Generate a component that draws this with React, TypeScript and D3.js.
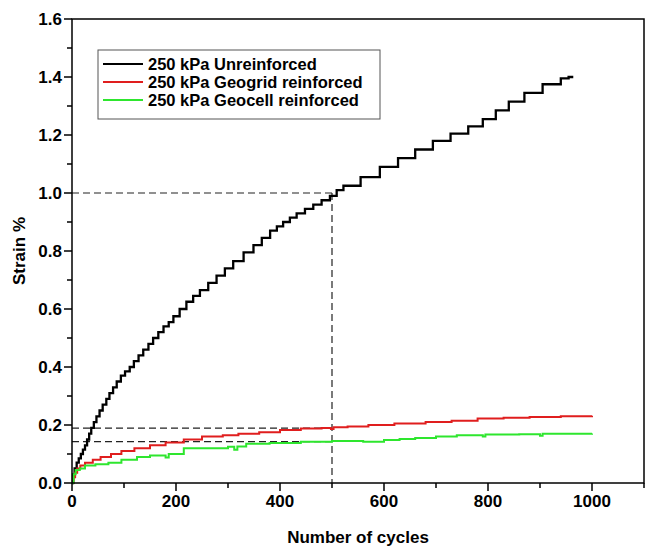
import React from "react";
import * as d3 from "d3";

const xTicks = [0, 200, 400, 600, 800, 1000];
const yTicks = [0, 0.2, 0.4, 0.6, 0.8, 1.0, 1.2, 1.4, 1.6];

const seriesNames = [
  "250 kPa Unreinforced",
  "250 kPa Geogrid reinforced",
  "250 kPa Geocell reinforced",
];
const seriesColors = ["#000000", "#e01e1e", "#2ee62e"];

// [cycles, strain %] step points
const unreinforced: [number, number][] = [
  [0, 0], [2, 0.03], [5, 0.05], [9, 0.07], [13, 0.085], [17, 0.1], [21, 0.115], [25, 0.13],
  [29, 0.15], [33, 0.17], [37, 0.19], [42, 0.21], [47, 0.23], [53, 0.25], [59, 0.27],
  [66, 0.29], [72, 0.31], [79, 0.33], [86, 0.35], [94, 0.37], [102, 0.385], [111, 0.4],
  [119, 0.42], [128, 0.44], [137, 0.46], [147, 0.48], [156, 0.5], [166, 0.52], [176, 0.54],
  [186, 0.555], [195, 0.575], [207, 0.6], [220, 0.625], [233, 0.645], [246, 0.665],
  [262, 0.69], [278, 0.715], [294, 0.74], [310, 0.765], [330, 0.795], [349, 0.82],
  [365, 0.845], [381, 0.87], [394, 0.885], [406, 0.9], [419, 0.915], [432, 0.93],
  [448, 0.945], [464, 0.96], [480, 0.975], [496, 0.99], [509, 1.01], [522, 1.025],
  [555, 1.055], [592, 1.09], [627, 1.12], [660, 1.15], [694, 1.18], [728, 1.205],
  [762, 1.23], [790, 1.255], [815, 1.285], [840, 1.315], [870, 1.345], [905, 1.375],
  [940, 1.395], [955, 1.4], [964, 1.4],
];

const geogrid: [number, number][] = [
  [0, 0], [3, 0.02], [6, 0.035], [10, 0.05], [16, 0.06], [25, 0.07], [40, 0.08], [55, 0.09],
  [75, 0.1], [95, 0.11], [120, 0.12], [150, 0.13], [180, 0.14], [215, 0.15], [250, 0.16],
  [290, 0.165], [320, 0.17], [360, 0.175], [400, 0.183], [440, 0.188], [480, 0.19],
  [498, 0.186], [503, 0.192], [530, 0.195], [570, 0.2], [620, 0.205], [680, 0.21],
  [730, 0.215], [780, 0.222], [830, 0.225], [880, 0.228], [940, 0.23], [1000, 0.232],
];

const geocell: [number, number][] = [
  [0, 0], [3, 0.03], [7, 0.045], [15, 0.05], [25, 0.06], [45, 0.065], [70, 0.07], [95, 0.08],
  [125, 0.09], [150, 0.095], [180, 0.088], [186, 0.1], [215, 0.12], [260, 0.12],
  [300, 0.125], [312, 0.115], [318, 0.126], [335, 0.135], [380, 0.138], [440, 0.142],
  [500, 0.145], [560, 0.142], [600, 0.148], [630, 0.152], [660, 0.155], [700, 0.16],
  [740, 0.165], [790, 0.16], [795, 0.167], [860, 0.168], [900, 0.163], [905, 0.17],
  [1000, 0.171],
];

const series = [unreinforced, geogrid, geocell];

const refCycle = 500;
const refStrains = [1.0, 0.189, 0.143];

const W = 646;
const H = 547;
const M = { left: 72, top: 19, right: 644, bottom: 483 };

export default function App() {
  const x = d3.scaleLinear().domain([0, 1100]).range([M.left, M.right]);
  const y = d3.scaleLinear().domain([0, 1.6]).range([M.bottom, M.top]);
  const line = d3
    .line<[number, number]>()
    .x((d) => x(d[0]))
    .y((d) => y(d[1]))
    .curve(d3.curveStepAfter);

  const xMinor = d3.range(0, 1101, 100);
  const yMinor = d3.range(0, 1.601, 0.1);
  const font = "'Liberation Sans', Arial, sans-serif";

  return (
    <svg
      width={W}
      height={H}
      style={{ position: "absolute", left: 0, top: 0, background: "#fff" }}
      fontFamily={font}
      fontWeight="bold"
    >
      <rect x={0} y={0} width={W} height={H} fill="#fff" />
      {/* reference dashed lines */}
      {refStrains.map((s, i) => (
        <line
          key={"h" + i}
          x1={x(0)}
          x2={x(refCycle)}
          y1={y(s)}
          y2={y(s)}
          stroke="#222"
          strokeWidth={1.2}
          strokeDasharray="7,4"
        />
      ))}
      <line
        x1={x(refCycle)}
        x2={x(refCycle)}
        y1={y(refStrains[0])}
        y2={y(0)}
        stroke="#222"
        strokeWidth={1.2}
        strokeDasharray="7,4"
      />
      {/* series */}
      {series.map((s, i) => (
        <path
          key={i}
          d={line(s) || ""}
          fill="none"
          stroke={seriesColors[i]}
          strokeWidth={i === 0 ? 2.3 : 2}
          strokeLinejoin="miter"
        />
      ))}
      {/* frame */}
      <rect
        x={M.left}
        y={M.top}
        width={M.right - M.left}
        height={M.bottom - M.top}
        fill="none"
        stroke="#000"
        strokeWidth={1.5}
      />
      {/* x ticks */}
      {xMinor.map((t) => (
        <line
          key={"xt" + t}
          x1={x(t)}
          x2={x(t)}
          y1={M.bottom}
          y2={M.bottom + (t % 200 === 0 ? 8 : 5)}
          stroke="#000"
          strokeWidth={1.5}
        />
      ))}
      {xTicks.map((t) => (
        <text key={"xl" + t} x={x(t)} y={M.bottom + 24} textAnchor="middle" fontSize={17}>
          {t}
        </text>
      ))}
      {/* y ticks */}
      {yMinor.map((t, i) => (
        <line
          key={"yt" + i}
          x1={M.left}
          x2={M.left - (i % 2 === 0 ? 8 : 5)}
          y1={y(t)}
          y2={y(t)}
          stroke="#000"
          strokeWidth={1.5}
        />
      ))}
      {yTicks.map((t) => (
        <text
          key={"yl" + t}
          x={M.left - 10}
          y={y(t)}
          dy="0.36em"
          textAnchor="end"
          fontSize={17}
        >
          {t.toFixed(1)}
        </text>
      ))}
      {/* axis titles */}
      <text x={(M.left + M.right) / 2} y={543} textAnchor="middle" fontSize={17}>
        Number of cycles
      </text>
      <text
        transform={`translate(25, ${(M.top + M.bottom) / 2}) rotate(-90)`}
        textAnchor="middle"
        fontSize={17}
      >
        Strain %
      </text>
      {/* legend */}
      <rect x={98} y={50} width={282} height={69} fill="#fff" stroke="#555" strokeWidth={1} />
      {seriesNames.map((n, i) => (
        <g key={n}>
          <line
            x1={103}
            x2={143}
            y1={64 + i * 18}
            y2={64 + i * 18}
            stroke={seriesColors[i]}
            strokeWidth={2}
          />
          <text x={148} y={64 + i * 18} dy="0.36em" fontSize={16.5}>
            {n}
          </text>
        </g>
      ))}
    </svg>
  );
}
